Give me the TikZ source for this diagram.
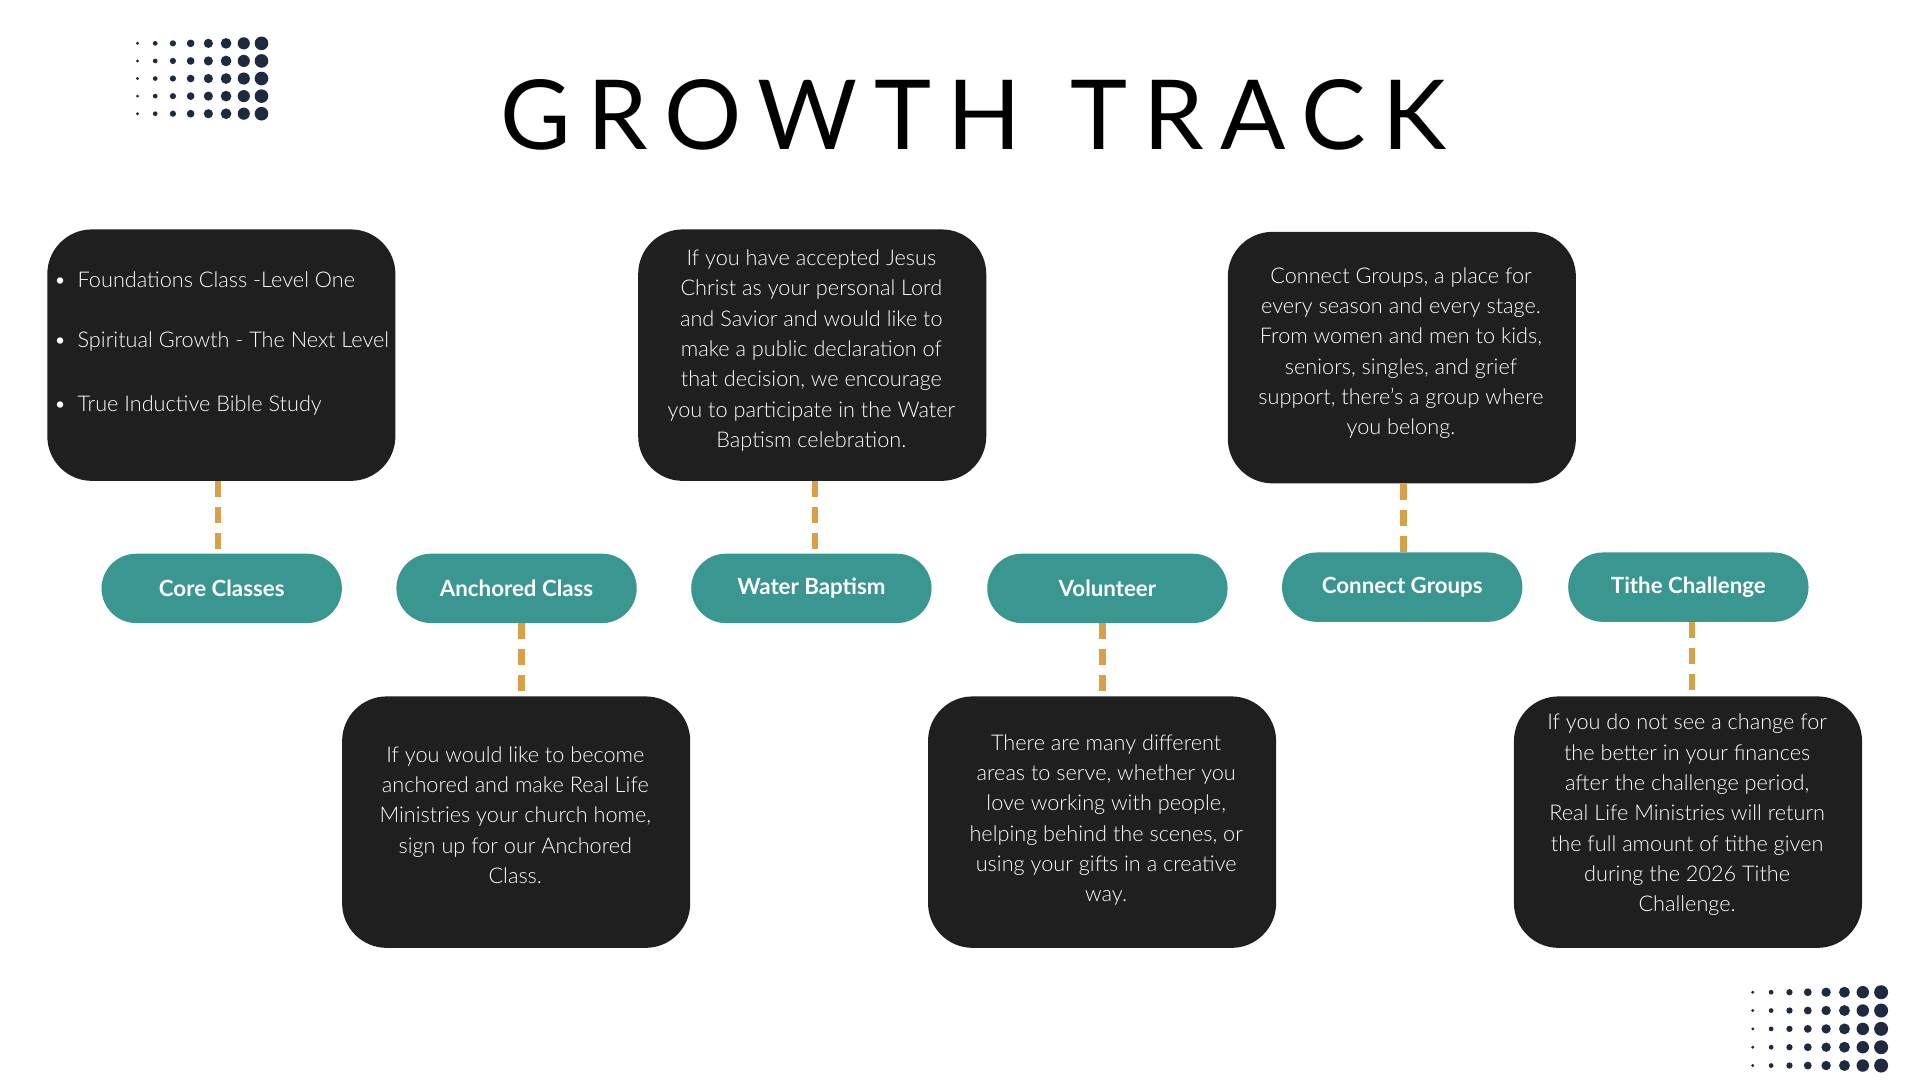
\documentclass[tikz,border=0pt]{standalone}
\usepackage{fontspec}
\setmainfont{Lato}
\newfontfamily\lightf{Lato Light}
\definecolor{boxc}{HTML}{1F1F1F}
\definecolor{teal}{HTML}{3A9690}
\definecolor{dashc}{HTML}{D9A04A}
\definecolor{dotc}{HTML}{1E2A3F}
\begin{document}
\begin{tikzpicture}[x=1pt,y=-1pt,
  infobox/.style={fill=boxc,rounded corners=36pt,minimum width=281pt,minimum height=203pt,anchor=north west,text=white,font=\lightf\fontsize{17.5}{24.5}\selectfont,align=center,text width=260pt,inner sep=0pt},
  pill/.style={fill=teal,rounded corners=28pt,minimum width=194pt,minimum height=56pt,text=white,font=\bfseries\fontsize{18}{20}\selectfont,inner sep=0pt},
  link/.style={dashc,line width=5pt,dash pattern=on 13pt off 8pt}]
\useasboundingbox (0,0) rectangle (1550,872);
\fill[white] (0,0) rectangle (1550,872);
% dots
\foreach \i in {0,...,7}{\foreach \j in {0,...,4}{
  \fill[dotc] (111+\i*14.3,35+\j*14.2) circle ({1.3+\i*0.6});
  \fill[dotc] (1415+\i*14.8,801+\j*14.8) circle ({1.3+\i*0.62});}}
\node[font=\fontsize{78}{80}\selectfont] (title) at (786,93) {G\,R\,O\,W\,T\,H\ \ T\,R\,A\,C\,K};
% top boxes
\node[infobox,align=left] (b1) at (38,185) {};
\node[anchor=west,text=white,font=\lightf\fontsize{17.5}{24.5}\selectfont,align=left] at (40,226) {\textbullet\hspace{9pt}Foundations Class -Level One};
\node[anchor=west,text=white,font=\lightf\fontsize{17.5}{24.5}\selectfont,align=left] at (40,276) {\textbullet\hspace{9pt}Spiritual Growth - The Next Level};
\node[anchor=west,text=white,font=\lightf\fontsize{17.5}{24.5}\selectfont,align=left] at (40,327) {\textbullet\hspace{9pt}True Inductive Bible Study};
\node[infobox] (b2) at (515,185) {};
\node[text=white,font=\lightf\fontsize{17.5}{24.5}\selectfont,align=center] at (655,283) {If you have accepted Jesus\\Christ as your personal Lord\\and Savior and would like to\\make a public declaration of\\that decision, we encourage\\you to participate in the Water\\Baptism celebration.};
\node[infobox] (b3) at (991,187) {};
\node[text=white,font=\lightf\fontsize{17.5}{24.5}\selectfont,align=center] at (1131,285) {Connect Groups, a place for\\every season and every stage.\\From women and men to kids,\\seniors, singles, and grief\\support, there’s a group where\\you belong.};
% bottom boxes
\node[infobox] (b4) at (276,562) {};
\node[text=white,font=\lightf\fontsize{17.5}{24.5}\selectfont,align=center] at (416,658) {If you would like to become\\anchored and make Real Life\\Ministries your church home,\\sign up for our Anchored\\Class.};
\node[infobox] (b5) at (749,562) {};
\node[text=white,font=\lightf\fontsize{17.5}{24.5}\selectfont,align=center] at (893,662) {There are many different\\areas to serve, whether you\\love working with people,\\helping behind the scenes, or\\using your gifts in a creative\\way.};
\node[infobox] (b6) at (1222,562) {};
\node[text=white,font=\lightf\fontsize{17.5}{24.5}\selectfont,align=center] at (1362,658) {If you do not see a change for\\the better in your finances\\after the challenge period,\\Real Life Ministries will return\\the full amount of tithe given\\during the 2026 Tithe\\Challenge.};
% pills
\node[pill] (p1) at (179,475) {Core Classes};
\node[pill] (p2) at (417,475) {Anchored Class};
\node[pill] (p3) at (655,475) {Water Baptism};
\node[pill] (p4) at (894,475) {Volunteer};
\node[pill] (p5) at (1132,474) {Connect Groups};
\node[pill] (p6) at (1363,474) {Tithe Challenge};
% links
\draw[link] (b1.south -| 176,0) -- (p1.north -| 176,0);
\draw[link] (b2.south -| 658,0) -- (p3.north -| 658,0);
\draw[link] (b3.south -| 1133,0) -- (p5.north -| 1133,0);
\draw[link] (p2.south -| 421,0) -- (b4.north -| 421,0);
\draw[link] (p4.south -| 890,0) -- (b5.north -| 890,0);
\draw[link] (p6.south -| 1366,0) -- (b6.north -| 1366,0);
\end{tikzpicture}
\end{document}
